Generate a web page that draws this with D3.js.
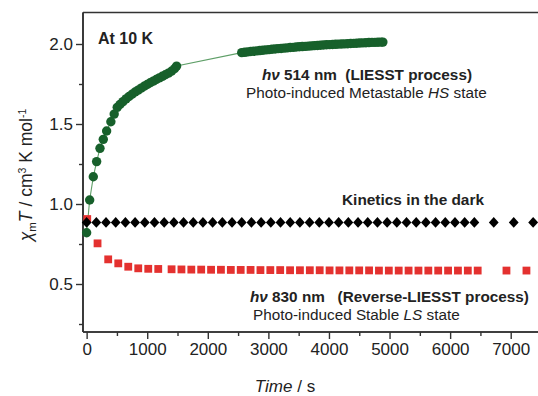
<!DOCTYPE html>
<html><head><meta charset="utf-8">
<script src="https://cdn.jsdelivr.net/npm/d3@7"></script>
<style>
body{margin:0;background:#fff;}
text{font-family:"Liberation Sans",Arial,sans-serif;fill:#222;}
</style></head>
<body><svg id="c" width="538" height="396"></svg>
<script>
// ---- data ----
const xTicks = [0,1000,2000,3000,4000,5000,6000,7000];
const yTicks = [0.5,1.0,1.5,2.0];
const yTickLabels = ["0.5","1.0","1.5","2.0"];

// LIESST (514 nm) green circles
const greenTime = [0,50,110,165,220,275,330,400,455,505,550,600,650,700,750,800,850,900,950,1000,1050,1100,1150,1200,1250,1300,1350,1400,1450,1485,
2560,2610,2660,2710,2760,2810,2860,2910,2960,3010,3060,3110,3160,3210,3260,3310,3360,3410,3460,3510,3560,3610,3660,3710,3760,3810,3860,3910,3960,4010,4060,4110,4160,4210,4260,4310,4360,4410,4460,4510,4560,4610,4660,4710,4760,4810,4860,4890];
const greenValue = [0.82,1.025,1.17,1.265,1.348,1.404,1.456,1.514,1.562,1.604,1.622,1.640,1.657,1.672,1.686,1.700,1.712,1.724,1.736,1.747,1.758,1.768,1.778,1.788,1.798,1.808,1.818,1.830,1.845,1.862,
1.946,1.948,1.951,1.953,1.955,1.957,1.959,1.961,1.963,1.965,1.967,1.969,1.971,1.972,1.974,1.976,1.978,1.979,1.981,1.983,1.984,1.985,1.987,1.988,1.990,1.991,1.992,1.994,1.995,1.996,1.997,1.998,1.999,2.000,2.001,2.002,2.003,2.004,2.005,2.006,2.007,2.008,2.009,2.010,2.010,2.011,2.012,2.012];

// Kinetics in the dark, black diamonds
const darkTime = [0,160,320,480,640,800,960,1120,1280,1440,1600,1760,1920,2080,2240,2400,2560,2720,2880,3040,3200,3360,3520,3680,3840,4000,4160,4320,4480,4640,4800,4960,5120,5280,5440,5600,5760,5920,6080,6240,6400,6720,7050,7370];
const darkValue = [0.885,0.885,0.885,0.885,0.885,0.885,0.885,0.885,0.885,0.885,0.885,0.885,0.885,0.885,0.885,0.885,0.885,0.885,0.885,0.885,0.885,0.885,0.885,0.885,0.885,0.885,0.885,0.885,0.885,0.885,0.885,0.885,0.885,0.885,0.885,0.885,0.885,0.885,0.885,0.885,0.885,0.885,0.885,0.885];

// Reverse-LIESST (830 nm) red squares
const redTime = [10,180,356,522,687,852,1017,1182,1402,1565,1728,1891,2054,2217,2380,2543,2706,2869,3032,3195,3358,3521,3684,3847,4010,4173,4336,4499,4662,4825,4988,5151,5314,5477,5640,5803,5966,6129,6292,6455,6930,7260];
const redValue = [0.906,0.754,0.654,0.629,0.608,0.598,0.595,0.594,0.592,0.591,0.590,0.590,0.589,0.589,0.588,0.588,0.588,0.587,0.587,0.587,0.586,0.586,0.586,0.586,0.585,0.585,0.585,0.585,0.585,0.584,0.584,0.584,0.584,0.584,0.584,0.584,0.584,0.584,0.584,0.584,0.584,0.584];

// ---- drawing ----
const svg = d3.select("#c");
const x = d3.scaleLinear().domain([-60,7500]).range([83,541]);
const y = d3.scaleLinear().domain([0.2,2.2]).range([332,12]);
const axisColor = "#333";

svg.append("line").attr("x1",83).attr("x2",541).attr("y1",12.5).attr("y2",12.5)
  .attr("stroke",axisColor).attr("stroke-width",1.6);

const xMinor = d3.range(500,7500,1000);
const yMinor = [0.25,0.75,1.25,1.75];
const gx = svg.append("g").attr("transform","translate(0,332)");
gx.call(d3.axisBottom(x).tickValues(xTicks).tickSize(7).tickPadding(4).tickFormat(d3.format("d")));
gx.append("g").call(d3.axisBottom(x).tickValues(xMinor).tickSize(4).tickFormat(""));
const gy = svg.append("g").attr("transform","translate(83,0)");
gy.call(d3.axisLeft(y).tickValues(yTicks).tickSize(7).tickPadding(3).tickFormat((d,i)=>yTickLabels[i]));
gy.append("g").call(d3.axisLeft(y).tickValues(yMinor).tickSize(4).tickFormat(""));
svg.selectAll(".domain").attr("stroke",axisColor).attr("stroke-width",1.6);
svg.selectAll(".tick line").attr("stroke",axisColor).attr("stroke-width",1.4);
svg.selectAll(".tick text").attr("font-size",17).attr("font-family","Liberation Sans, Arial, sans-serif").attr("fill","#333");
gx.selectAll(".domain").attr("d","M83,0H541");
gy.selectAll(".domain").attr("d","M0,12.5V332");

const green = greenTime.map((t,i)=>({t, v:greenValue[i]}));
svg.append("path").datum(green)
  .attr("d", d3.line().x(d=>x(d.t)).y(d=>y(d.v)))
  .attr("fill","none").attr("stroke","#5f9f68").attr("stroke-width",1.1);
svg.append("g").selectAll("circle").data(green).join("circle")
  .attr("cx",d=>x(d.t)).attr("cy",d=>y(d.v)).attr("r",4.7).attr("fill","#17602b");

const red = redTime.map((t,i)=>({t, v:redValue[i]}));
svg.append("g").selectAll("rect").data(red).join("rect")
  .attr("x",d=>x(d.t)-3.9).attr("y",d=>y(d.v)-3.9).attr("width",7.8).attr("height",7.8).attr("fill","#e4312f");

const dark = darkTime.map((t,i)=>({t, v:darkValue[i]}));
svg.append("g").selectAll("path").data(dark).join("path")
  .attr("transform",d=>`translate(${x(d.t)},${y(d.v)})`)
  .attr("d","M0,-5.3L4.9,0L0,5.3L-4.9,0Z").attr("fill","#000");

function label(xp, yp, parts, size){
  const t = svg.append("text").attr("x",xp).attr("y",yp).attr("font-size",size).style("white-space","pre");
  parts.forEach(p=>{
    const s = t.append("tspan").text(p.s);
    if(p.b) s.attr("font-weight","bold");
    if(p.i) s.attr("font-style","italic");
  });
  return t;
}
label(98,44,[{s:"At 10 K",b:1}],16);
label(262,80,[{s:"hν",b:1,i:1},{s:" 514 nm  (LIESST process)",b:1}],15.3);
label(246,98,[{s:"Photo-induced Metastable "},{s:"HS",i:1},{s:" state"}],15.3);
label(342,205,[{s:"Kinetics in the dark",b:1}],15.4);
label(250,302,[{s:"hν",b:1,i:1},{s:" 830 nm   (Reverse-LIESST process)",b:1}],15.3);
label(253,320,[{s:"Photo-induced Stable "},{s:"LS",i:1},{s:" state"}],15.3);

const xt = svg.append("text").attr("x",285).attr("y",392).attr("text-anchor","middle").attr("font-size",17);
xt.append("tspan").attr("font-style","italic").text("Time");
xt.append("tspan").text(" / s");

const yt = svg.append("text").attr("transform","translate(32,175) rotate(-90)").attr("text-anchor","middle").attr("font-size",17.5);
yt.append("tspan").attr("font-style","italic").text("χ");
yt.append("tspan").attr("font-size",11.5).attr("dy",4).text("m");
yt.append("tspan").attr("font-style","italic").attr("dy",-4).text("T");
yt.append("tspan").text(" / cm");
yt.append("tspan").attr("font-size",10.5).attr("dy",-6).text("3");
yt.append("tspan").attr("dy",6).text(" K mol");
yt.append("tspan").attr("font-size",10.5).attr("dy",-6).text("-1");
</script></body></html>
